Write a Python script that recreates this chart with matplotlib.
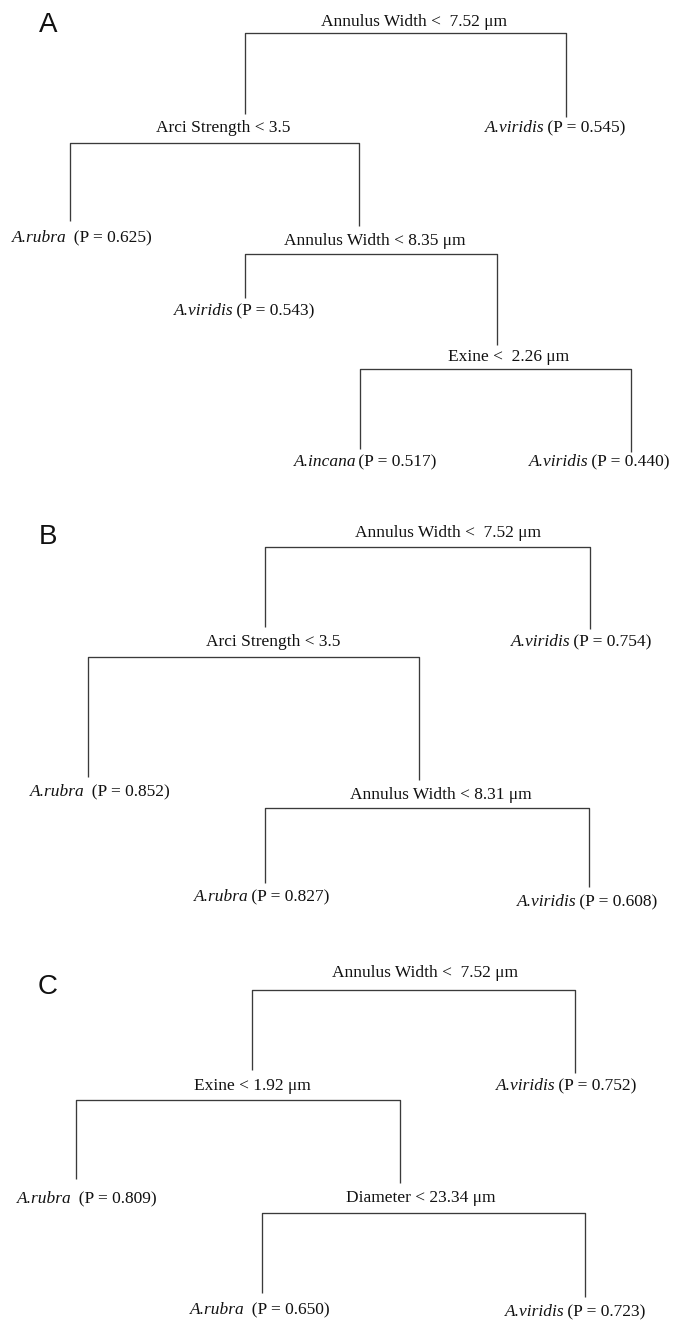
import matplotlib
matplotlib.use("Agg")
import matplotlib.pyplot as plt

# ---------------- data ----------------
panel_letters = ["A", "B", "C"]

A_splits = ["Annulus Width <  7.52 \u03bcm", "Arci Strength < 3.5",
            "Annulus Width < 8.35 \u03bcm", "Exine <  2.26 \u03bcm"]
A_species = ["A.viridis", "A.rubra", "A.viridis", "A.incana", "A.viridis"]
A_prob = [0.545, 0.625, 0.543, 0.517, 0.440]
A_gap = [" ", "  ", " ", " ", " "]

B_splits = ["Annulus Width <  7.52 \u03bcm", "Arci Strength < 3.5",
            "Annulus Width < 8.31 \u03bcm"]
B_species = ["A.viridis", "A.rubra", "A.rubra", "A.viridis"]
B_prob = [0.754, 0.852, 0.827, 0.608]
B_gap = [" ", "  ", " ", " "]

C_splits = ["Annulus Width <  7.52 \u03bcm", "Exine < 1.92 \u03bcm",
            "Diameter < 23.34 \u03bcm"]
C_species = ["A.viridis", "A.rubra", "A.rubra", "A.viridis"]
C_prob = [0.752, 0.809, 0.650, 0.723]
C_gap = [" ", "  ", "  ", " "]

# ---------------- layout (pixel units) ----------------
# split: (bar_y, x_left, x_right, bottom_left, bottom_right, text_x, text_y)
A_split_pos = [(33, 245, 566, 114, 117, 414, 22),
               (143, 70, 359, 221, 226, 223, 128),
               (254, 245, 497, 298, 345, 375, 241),
               (369, 360, 631, 449, 452, 509, 357)]
A_leaf_pos = [(555, 128), (82, 238), (244, 311), (365, 462), (599, 462)]

B_split_pos = [(547, 265, 590, 627, 629, 448, 533),
               (657, 88, 419, 777, 780, 273, 642),
               (808, 265, 589, 883, 887, 441, 795)]
B_leaf_pos = [(581, 642), (100, 792), (262, 897), (587, 902)]

C_split_pos = [(990, 252, 575, 1070, 1073, 425, 973),
               (1100, 76, 400, 1179, 1183, 252, 1086),
               (1213, 262, 585, 1293, 1297, 421, 1198)]
C_leaf_pos = [(566, 1086), (87, 1199), (260, 1310), (575, 1312)]

letter_pos = [(48, 25), (48, 537), (48, 987)]

trees = [
    (A_splits, A_species, A_prob, A_gap, A_split_pos, A_leaf_pos),
    (B_splits, B_species, B_prob, B_gap, B_split_pos, B_leaf_pos),
    (C_splits, C_species, C_prob, C_gap, C_split_pos, C_leaf_pos),
]

fig = plt.figure(figsize=(6.75, 13.2), dpi=100)
ax = fig.add_axes([0, 0, 1, 1])
ax.set_xlim(0, 675)
ax.set_ylim(1320, 0)
ax.axis("off")
renderer = fig.canvas.get_renderer()

line_kw = dict(color="#3a3a3a", lw=0.95, solid_capstyle="butt")
fs = 12.5
txt_kw = dict(fontsize=fs, family="Liberation Serif", va="center",
              color="#111111")
kern = 2.0  # tighten the gap after the italic name

for (letter, (lx, ly)) in zip(panel_letters, letter_pos):
    ax.text(lx, ly, letter, fontsize=20, family="Liberation Sans",
            ha="center", va="center", color="#111111")


def data_width(t):
    bb = t.get_window_extent(renderer=renderer)
    inv = ax.transData.inverted()
    (x0, _), (x1, _) = inv.transform([(bb.x0, bb.y0), (bb.x1, bb.y0)])
    return x1 - x0


for splits, species, prob, gap, spos, lpos in trees:
    for label, (by, xl, xr, bl, br, tx, ty) in zip(splits, spos):
        ax.plot([xl, xl, xr, xr], [bl, by, by, br], **line_kw)
        ax.text(tx, ty, label, ha="center", **txt_kw)
    for sp, p, g, (tx, ty) in zip(species, prob, gap, lpos):
        t1 = ax.text(tx, ty, sp, ha="left", style="italic", **txt_kw)
        t2 = ax.text(tx, ty, g + "(P = %.3f)" % p, ha="left", **txt_kw)
        w1 = data_width(t1) - kern
        w2 = data_width(t2)
        x0 = tx - (w1 + w2) / 2.0
        t1.set_x(x0)
        t2.set_x(x0 + w1)

fig.savefig("out.png", dpi=100)
